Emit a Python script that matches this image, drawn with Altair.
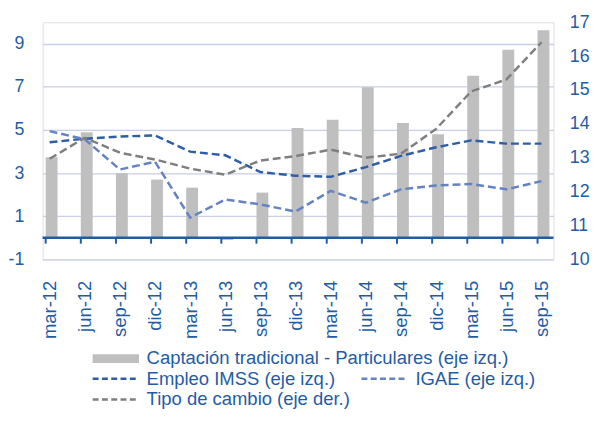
import altair as alt
import pandas as pd

periods = ["mar-12", "jun-12", "sep-12", "dic-12", "mar-13", "jun-13", "sep-13", "dic-13",
           "mar-14", "jun-14", "sep-14", "dic-14", "mar-15", "jun-15", "sep-15"]
captacion = [3.74, 4.9, 3.0, 2.7, 2.33, -0.1, 2.1, 5.1, 5.48, 6.98, 5.33, 4.8, 7.52, 8.73, 9.63]
empleo = [4.43, 4.6, 4.7, 4.75, 4.0, 3.83, 3.05, 2.88, 2.83, 3.28, 3.8, 4.2, 4.52, 4.37, 4.37]
igae = [4.95, 4.57, 3.17, 3.53, 0.94, 1.78, 1.55, 1.22, 2.18, 1.63, 2.25, 2.43, 2.5, 2.25, 2.63]
tipo = [12.97, 13.59, 13.15, 12.95, 12.68, 12.5, 12.92, 13.05, 13.24, 13.0, 13.12, 13.85, 14.96, 15.31, 16.41]

left_ticks = [-1, 1, 3, 5, 7, 9]
right_ticks = [10, 11, 12, 13, 14, 15, 16, 17]

S_BAR = "Captación tradicional - Particulares (eje izq.)"
S_EMP = "Empleo IMSS (eje izq.)"
S_IGAE = "IGAE (eje izq.)"
S_TIPO = "Tipo de cambio (eje der.)"

TXT = "#1F5CA6"
FONT = "Liberation Sans"
FS = 18.67

df = pd.DataFrame({
    "idx": list(range(len(periods))),
    "periodo": periods,
    "captacion": captacion,
    "empleo": empleo,
    "igae": igae,
    "tipo": tipo,
})

label_expr = "[" + ",".join("'%s'" % p for p in periods) + "][datum.value]"

xscale = alt.Scale(domain=[-0.06, 14.2], nice=False, zero=False)
xaxis = alt.Axis(values=list(range(len(periods))), labelExpr=label_expr, labelAngle=270,
                 title=None, domain=False, ticks=False, grid=False, labelPadding=21,
                 labelColor=TXT, labelFont=FONT, labelFontSize=FS)
X = alt.X("idx:Q", scale=xscale, axis=xaxis)

yleft_scale = alt.Scale(domain=[-1, 10], nice=False, zero=False)
yleft_axis = alt.Axis(values=left_ticks, title=None, domain=False, ticks=False, grid=True,
                      gridColor="#C8CFE6", gridWidth=1.3, labelPadding=19,
                      labelExpr="'' + datum.value",
                      labelColor=TXT, labelFont=FONT, labelFontSize=18)

# order chosen so the column-major 2-column legend reads: Empleo | IGAE / Tipo
stroke_scale = alt.Scale(domain=[S_EMP, S_TIPO, S_IGAE], range=["#2E5EA8", "#7F7F7F", "#6383C4"])
line_legend = alt.Legend(title=None, orient="none", legendX=64.8, legendY=351, columns=2,
                         columnPadding=5, rowPadding=1.5, padding=0,
                         symbolType="M-5,0H5", symbolSize=88, symbolStrokeWidth=2.5,
                         symbolDash=[6, 3.4], symbolFillColor="transparent",
                         labelOffset=21.8, labelColor=TXT, labelFont=FONT, labelFontSize=FS,
                         labelLimit=400)

base = alt.Chart(df)

bars = base.transform_calculate(serie="'" + S_BAR + "'").mark_bar(size=12, xOffset=2).encode(
    x=X,
    y=alt.Y("captacion:Q", scale=yleft_scale, axis=yleft_axis),
    fill=alt.Fill("serie:N", scale=alt.Scale(domain=[S_BAR], range=["#BFBFBF"]),
                  legend=alt.Legend(title=None, orient="none", legendX=64.8, legendY=331,
                                    padding=0, symbolType="M-5,-0.95H5V0.95H-5Z", symbolSize=88,
                                    symbolStrokeWidth=0, labelOffset=21.8, labelColor=TXT,
                                    labelFont=FONT, labelFontSize=FS, labelLimit=500)),
)

lines_left = base.transform_fold(["empleo", "igae"], as_=["clave", "valor"]).transform_calculate(
    serie="datum.clave == 'empleo' ? '" + S_EMP + "' : '" + S_IGAE + "'"
).mark_line(strokeWidth=2.5, strokeDash=[8, 4]).encode(
    x=X,
    y=alt.Y("valor:Q", scale=yleft_scale, axis=yleft_axis),
    stroke=alt.Stroke("serie:N", scale=stroke_scale, legend=line_legend),
    detail="clave:N",
)

zero_line = base.transform_filter("datum.idx == 0").mark_rule(
    color="#1F5CA6", strokeWidth=2.5
).encode(y=alt.datum(0))

ticks = base.mark_rule(color="#1F5CA6", strokeWidth=2, xOffset=-4).encode(
    x=X,
    y=alt.datum(0),
    y2=alt.datum(-0.27),
)

left = alt.layer(bars, lines_left, zero_line, ticks)

right = base.transform_calculate(serie="'" + S_TIPO + "'").mark_line(
    strokeWidth=2.5, strokeDash=[8, 4]
).encode(
    x=X,
    y=alt.Y("tipo:Q", scale=alt.Scale(domain=[10, 17], nice=False, zero=False),
            axis=alt.Axis(values=right_ticks, orient="right", title=None, domain=False,
                          ticks=False, grid=False, labelPadding=16, labelColor=TXT,
                          labelFont=FONT, labelFontSize=18)),
    stroke=alt.Stroke("serie:N", scale=stroke_scale, legend=line_legend),
)

chart = alt.layer(left, right).resolve_scale(y="independent").properties(
    width=517, height=240,
    autosize=alt.AutoSizeParams(type="none"),
    padding={"left": 35, "top": 12, "right": 38, "bottom": 152},
).configure_view(stroke=None).configure(background="white")

chart.save("out.html", embed_options={"renderer": "svg", "actions": False})
